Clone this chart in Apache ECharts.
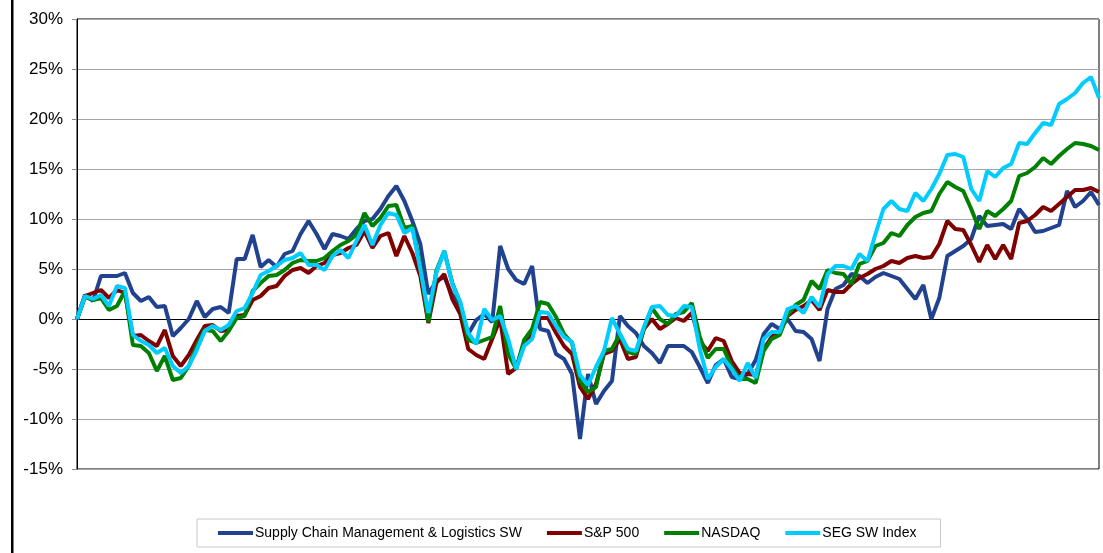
<!DOCTYPE html>
<html>
<head>
<meta charset="utf-8">
<script src="https://cdn.jsdelivr.net/npm/echarts@6/dist/echarts.min.js"></script>
<style>
  html, body { margin: 0; padding: 0; background: #fff; }
  #chart { width: 1103px; height: 553px; }
</style>
</head>
<body>
<div id="chart"></div>
<script>
// percent change (one point about every 8 px)
const seriesNames = ['Supply Chain Management & Logistics SW', 'S&P 500', 'NASDAQ', 'SEG SW Index'];

const scmSw = [
  0, 2.4, 1.8, 4.3, 4.3, 4.3, 4.6, 2.6, 1.8, 2.2, 1.2, 1.3, -1.7, -0.9, 0.0, 1.8, 0.2, 1.0, 1.2, 0.6,
  6.0, 6.0, 8.4, 5.2, 5.9, 5.2, 6.5, 6.8, 8.5, 9.8, 8.5, 7.0, 8.5, 8.3, 8.0, 9.0, 9.8, 10.0, 11.0, 12.3,
  13.3, 11.8, 9.8, 7.5, 2.5, 3.8, 4.2, 2.4, 1.3, -1.5, -0.1, 0.5, -0.3, 7.3, 5.0, 3.9, 3.5, 5.3, -1.0, -1.2,
  -3.5, -4.0, -5.5, -12.0, -5.5, -8.5, -7.2, -6.2, 0.3, -0.7, -1.4, -2.7, -3.4, -4.4, -2.7, -2.7, -2.7, -3.3, -4.8, -6.4,
  -4.6, -4.0, -5.8, -6.0, -5.5, -4.1, -1.5, -0.5, -1.0, 0.0, -1.2, -1.3, -2.0, -4.2, 1.0, 3.0, 3.4, 4.5, 4.3, 3.6,
  4.2, 4.6, 4.3, 4.0, 3.0, 2.0, 3.4, 0.0, 2.1, 6.3, 6.8, 7.3, 8.0, 10.3, 9.3, 9.4, 9.5, 9.0, 11.0, 10.0,
  8.7, 8.8, 9.1, 9.4, 12.8, 11.2, 11.8, 12.7, 11.4
];

const sp500 = [
  0, 2.3, 2.6, 2.9, 2.1, 2.9, 2.6, -1.7, -1.6, -2.2, -2.7, -1.1, -3.7, -4.7, -3.6, -2.1, -0.7, -0.6, -1.2, -1.1,
  0.3, 0.4, 1.9, 2.3, 3.1, 3.3, 4.3, 4.9, 5.1, 4.6, 5.3, 5.6, 6.4, 6.6, 7.1, 7.4, 8.8, 7.1, 8.3, 8.6,
  6.3, 8.3, 6.6, 4.3, -0.4, 3.6, 4.5, 2.0, 0.5, -3.0, -3.6, -4.0, -2.0, 0.0, -5.5, -4.9, -2.5, -1.5, 0.1, 0.1,
  -1.4, -2.7, -3.5, -6.8, -8.0, -6.5, -3.5, -3.2, -2.0, -4.0, -3.8, -1.0, 0.0, -1.0, -0.5, 0.1, -0.2, 0.6, -2.2, -3.2,
  -1.9, -2.2, -4.2, -5.4, -5.5, -5.6, -3.0, -1.8, -1.2, 0.3, 0.9, 1.3, 1.9, 0.9, 2.9, 2.7, 2.7, 3.5, 4.1, 4.5,
  5.0, 5.3, 5.8, 5.6, 6.1, 6.3, 6.1, 6.2, 7.5, 9.8, 9.0, 8.9, 7.4, 5.7, 7.4, 6.0, 7.4, 6.0, 9.6, 9.8,
  10.4, 11.2, 10.8, 11.5, 12.2, 12.9, 12.9, 13.1, 12.7
];

const nasdaq = [
  0, 2.2, 1.9, 2.1, 0.9, 1.3, 2.8, -2.6, -2.7, -3.4, -5.2, -3.7, -6.1, -5.9, -4.7, -2.7, -1.1, -1.2, -2.2, -1.2,
  0.1, 0.3, 2.8, 3.6, 4.3, 4.4, 4.9, 5.6, 5.9, 5.8, 5.8, 6.1, 6.8, 7.4, 7.8, 8.4, 10.6, 9.3, 10.1, 11.3,
  11.4, 9.1, 9.3, 5.2, -0.3, 4.8, 6.8, 3.6, 1.6, -2.1, -2.4, -2.1, -1.8, 1.3, -3.5, -5.0, -2.1, -1.0, 1.7, 1.5,
  0.2, -1.5, -2.4, -6.2, -7.3, -6.8, -3.2, -3.0, -1.5, -3.3, -3.5, -1.0, 1.1, 0.0, -0.5, 0.5, 0.7, 1.6, -1.8, -3.9,
  -3.0, -3.0, -4.8, -6.0, -6.0, -6.4, -3.2, -2.0, -1.6, 0.4, 1.4, 1.9, 3.8, 3.0, 4.9, 4.6, 4.5, 3.5, 5.5, 5.8,
  7.3, 7.6, 8.6, 8.3, 9.4, 10.2, 10.6, 10.8, 12.5, 13.7, 13.2, 12.8, 11.0, 9.0, 10.8, 10.3, 11.0, 11.8, 14.3, 14.6,
  15.2, 16.1, 15.5, 16.3, 17.0, 17.6, 17.5, 17.3, 16.9
];

const segSw = [
  0, 2.3, 2.0, 2.4, 1.3, 3.3, 3.1, -1.6, -2.2, -2.6, -3.4, -2.9, -4.7, -5.4, -4.7, -3.1, -1.2, -0.7, -1.1, -0.6,
  0.8, 1.1, 2.6, 4.4, 4.8, 5.3, 5.9, 6.1, 6.6, 5.4, 5.4, 4.9, 6.3, 6.9, 6.1, 7.8, 9.4, 7.4, 9.4, 10.6,
  10.4, 8.6, 9.1, 5.0, 0.6, 4.6, 6.8, 3.5, 1.7, -1.4, -2.5, 1.0, -0.1, 0.3, -2.0, -5.0, -2.7, -2.0, 0.7, 0.6,
  -0.7, -1.8, -2.3, -5.6, -6.6, -4.8, -3.2, 0.1, -1.5, -3.0, -3.2, -0.8, 1.2, 1.3, 0.4, 0.3, 1.3, 1.2, -3.0, -6.0,
  -4.8, -4.0, -5.0, -6.2, -4.4, -5.9, -2.0, -1.3, -1.3, 1.0, 1.3, 0.6, 2.2, 1.2, 4.5, 5.3, 5.3, 5.0, 6.5, 5.8,
  8.5, 11.0, 11.8, 11.0, 10.8, 12.6, 11.8, 13.0, 14.5, 16.4, 16.5, 16.2, 13.0, 11.8, 14.8, 14.2, 15.1, 15.5, 17.6, 17.5,
  18.6, 19.6, 19.4, 21.5, 22.0, 22.6, 23.6, 24.2, 22.1
];

const seriesColors = ['#21428e', '#800000', '#008000', '#00ccff'];
const categories = scmSw.map((v, i) => i + 1);

const chart = echarts.init(document.getElementById('chart'), null, { renderer: 'canvas' });

const option = {
  animation: false,
  backgroundColor: '#fff',
  textStyle: { fontFamily: 'Liberation Sans, Arial, sans-serif' },
  graphic: [{
    type: 'rect',
    shape: { x: 11, y: 0, width: 2.5, height: 553 },
    style: { fill: '#000' }
  }],
  grid: {
    left: 77,
    top: 19,
    width: 1022,
    height: 450,
    show: true,
    borderColor: '#000',
    borderWidth: 1
  },
  legend: {
    data: seriesNames,
    left: 197,
    top: 519,
    icon: 'rect',
    itemWidth: 35,
    itemHeight: 4,
    itemGap: 25,
    padding: [7, 24, 7, 21],
    borderColor: '#c8c8c8',
    borderWidth: 1,
    textStyle: { fontSize: 14, color: '#000', padding: [0, 0, 0, -3] }
  },
  xAxis: {
    type: 'category',
    data: categories,
    boundaryGap: false,
    axisLine: { onZero: true, lineStyle: { color: '#000', width: 1 } },
    axisTick: { show: false },
    axisLabel: { show: false },
    splitLine: { show: false }
  },
  yAxis: {
    type: 'value',
    min: -15,
    max: 30,
    interval: 5,
    axisLine: { show: true, lineStyle: { color: '#000' } },
    axisTick: { show: true, length: 5, lineStyle: { color: '#888' } },
    axisLabel: { formatter: '{value}%', fontSize: 17, color: '#000', margin: 14 },
    splitLine: { lineStyle: { color: '#a6a6a6', width: 1 } }
  },
  series: [scmSw, sp500, nasdaq, segSw].map((data, i) => ({
    name: seriesNames[i],
    type: 'line',
    data: data,
    symbol: 'none',
    color: seriesColors[i],
    lineStyle: { width: 4, color: seriesColors[i] },
    z: 2 + i
  }))
};

chart.setOption(option);
</script>
</body>
</html>
